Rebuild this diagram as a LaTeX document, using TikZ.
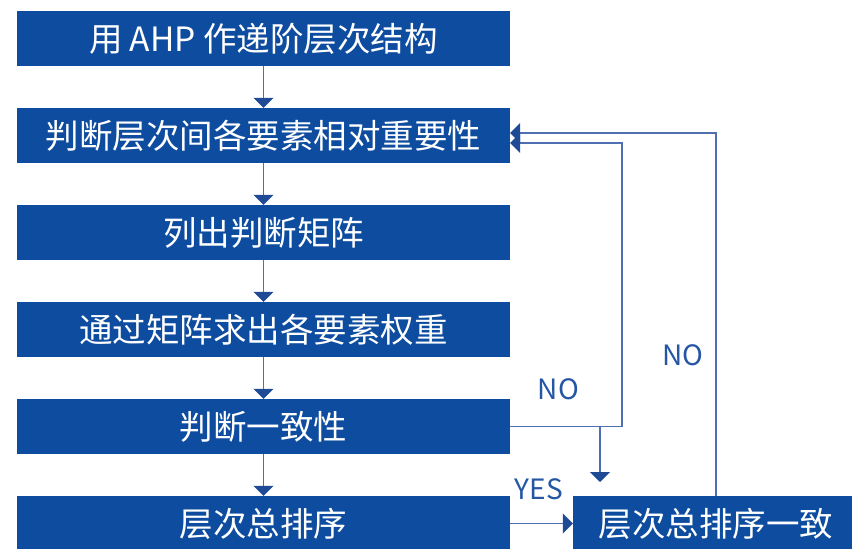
\documentclass[tikz,border=0pt]{standalone}
\usepackage{fontspec}
\setmainfont{Noto Sans CJK SC}
\newfontfamily\cjk{Noto Sans CJK SC}
\usepackage{tikz}
\usetikzlibrary{arrows.meta,calc}

\definecolor{boxblue}{RGB}{13,76,159}
\definecolor{lineblue}{RGB}{78,112,178}
\definecolor{tipblue}{RGB}{30,74,150}
\definecolor{labelblue}{RGB}{36,86,164}

\tikzset{
    stepbox/.style={rectangle, fill=boxblue, text=white, inner sep=0pt,
        minimum height=55pt, font=\cjk\fontsize{33.5}{40}\selectfont},
    flow/.style={draw=lineblue, line width=1.6pt,
        -{Triangle[width=20pt,length=10pt,color=tipblue]}},
    plain/.style={draw=lineblue, line width=1.6pt},
    answer/.style={text=labelblue, inner sep=0pt, font=\cjk\fontsize{28}{32}\selectfont}
}

\begin{document}
\begin{tikzpicture}[x=1pt, y=-1pt]
    \useasboundingbox (0,0) rectangle (852,549);

    \foreach \n/\y/\t in {1/38.5/用 AHP 作递阶层次结构, 2/135.5/判断层次间各要素相对重要性,
        3/232.5/列出判断矩阵, 4/329.5/通过矩阵求出各要素权重,
        5/426.5/判断一致性, 6/523.5/层次总排序} {
        \node[stepbox, minimum width=493pt] (box\n) at (263.5,\y) {\t};
    }
    \node[stepbox, minimum width=286pt] (total) at (716,523.5) {层次总排序一致};

    \foreach \a/\b in {1/2, 2/3, 3/4, 4/5, 5/6} {
        \draw[flow] (box\a.south) -- (box\b.north);
    }
    \draw[flow] (box6.east) -- (total.west);

    % NO loops
    \coordinate (loopA) at (622,143);
    \draw[flow] (box5.east) -| (loopA) -- (loopA -| box2.east);
    \coordinate (fork) at (600,426.5);
    \coordinate (forkend) at (600,482);
    \draw[flow] (fork) -- (forkend);
    \draw[flow] (total.north) |- ([yshift=2.5pt]box2.east);

    \node[answer] (noA) at (558.5,389) {NO};
    \node[answer] (noB) at (683,355.5) {NO};
    \node[answer] (yes) at (539,489) {YES};
\end{tikzpicture}
\end{document}
